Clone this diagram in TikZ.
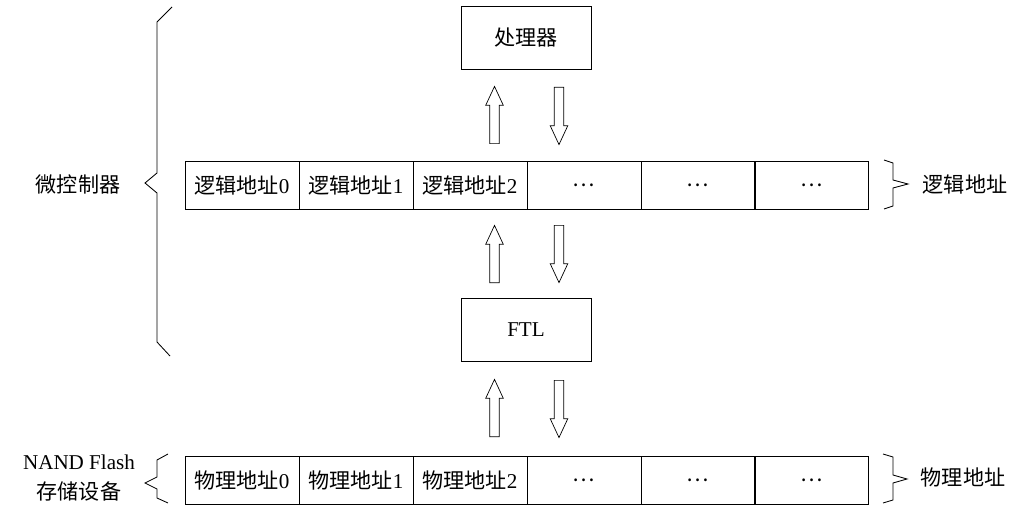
\documentclass[tikz,border=0pt]{standalone}
\usepackage{fontspec}
\setmainfont{Liberation Serif}
\newfontfamily\cjk{Noto Sans CJK SC}
\usetikzlibrary{shapes.arrows}
\tikzset{
  cell/.style={draw,line width=0.6pt,minimum width=2.85cm,minimum height=1.2cm,inner sep=0pt,font=\fontsize{15}{18}\selectfont},
  unit/.style={draw,line width=0.6pt,minimum width=3.25cm,minimum height=1.58cm,inner sep=0pt,font=\fontsize{15}{18}\selectfont},
  blockarrow/.style={draw,line width=0.5pt,single arrow,minimum height=1.43cm,minimum width=0.43cm,single arrow head extend=0.1cm,single arrow tip angle=50,inner sep=0.11cm,anchor=tail},
  tag/.style={inner sep=0pt,font=\fontsize{15}{18}\selectfont}
}
\newcommand{\more}{{\cjk …}}
\begin{document}
\begin{tikzpicture}[x=0.025cm,y=-0.025cm]
\useasboundingbox (0,0) rectangle (1035,519);

%%% processor and FTL

\node[unit] (cpu) at (526,38) {\cjk 处理器}; % processor box
\node[unit] (ftl) at (526,330) {FTL}; % FTL box

%%% logical address row

\node[cell] (l0) at (242,185) {{\cjk 逻辑地址}0};
\node[cell] (l1) at (356,185) {{\cjk 逻辑地址}1};
\node[cell] (l2) at (470,185) {{\cjk 逻辑地址}2};
\node[cell] (l3) at (584,185) {\more};
\node[cell] (l4) at (698,185) {\more};
\node[cell] (l5) at (811.5,185) {\more};

%%% physical address row

\node[cell] (p0) at (242,480) {{\cjk 物理地址}0};
\node[cell] (p1) at (356,480) {{\cjk 物理地址}1};
\node[cell] (p2) at (470,480) {{\cjk 物理地址}2};
\node[cell] (p3) at (584,480) {\more};
\node[cell] (p4) at (698,480) {\more};
\node[cell] (p5) at (811.5,480) {\more};

%%% block arrows (placed by their tails)

\node[blockarrow,rotate=90] (up1) at (494.5,144) {}; % to processor
\node[blockarrow,rotate=-90] (down1) at (559,87) {}; % from processor
\node[blockarrow,rotate=90] (up2) at (494.5,283) {}; % to logical row
\node[blockarrow,rotate=-90] (down2) at (559,225) {}; % to FTL
\node[blockarrow,rotate=90] (up3) at (494.5,437) {}; % to FTL
\node[blockarrow,rotate=-90] (down3) at (559,380) {}; % to flash

%%% braces and labels

\draw[line width=0.6pt] (172,7) -- (157,22) -- (157,173) -- (145,183) -- (157,193) -- (157,342) -- (170,356); % microcontroller brace
\node[tag] (mcu) at (78,184) {\cjk 微控制器};
\draw[line width=0.6pt] (884,160) -- (893,163) -- (893,180) -- (908,184) -- (893,188) -- (893,206) -- (884,209); % logical brace
\node[tag] (lname) at (965,184) {\cjk 逻辑地址};
\draw[line width=0.6pt] (168,454) -- (157,460) -- (157,477) -- (145,483) -- (157,489) -- (157,498) -- (168,503); % flash brace
\node[tag] (nand) at (79,462) {NAND Flash};
\node[tag] (store) at (79,491) {\cjk 存储设备};
\draw[line width=0.6pt] (883,454) -- (893,457) -- (893,475) -- (907,479) -- (893,483) -- (893,500) -- (883,503); % physical brace
\node[tag] (pname) at (963,477) {\cjk 物理地址};
\end{tikzpicture}
\end{document}
